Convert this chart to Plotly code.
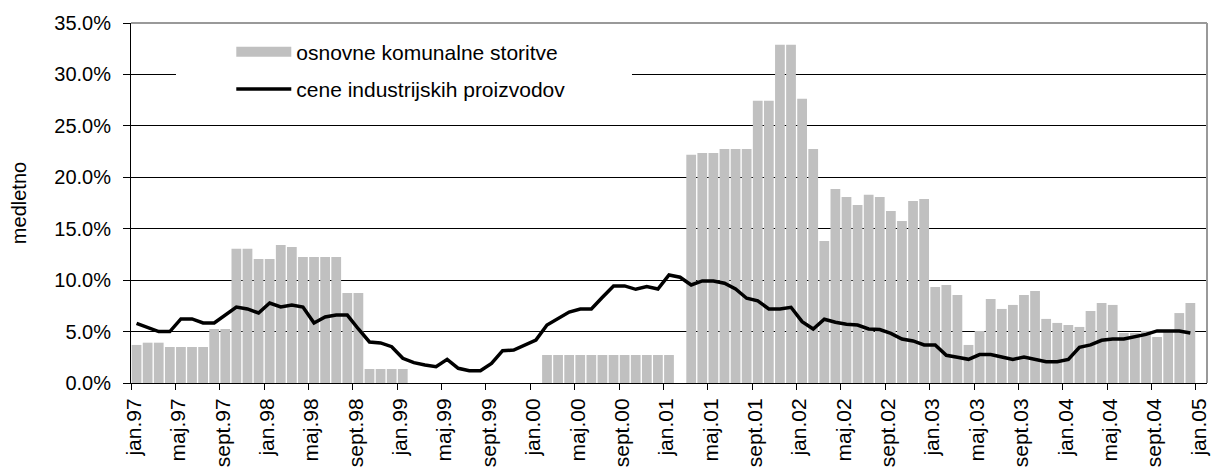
import plotly.graph_objects as go

month_names = ['jan', 'feb', 'mar', 'apr', 'maj', 'jun', 'jul', 'avg', 'sept', 'okt', 'nov', 'dec']
years = ['97', '98', '99', '00', '01', '02', '03', '04']
months = [m + '.' + y for y in years for m in month_names] + ['jan.05']

# osnovne komunalne storitve (bars), % medletno
komunalne = [3.70, 3.92, 3.92, 3.50, 3.50, 3.50, 3.50, 5.25, 5.25, 13.04, 13.04, 12.06,
             12.06, 13.42, 13.23, 12.26, 12.26, 12.26, 12.26, 8.75, 8.75, 1.36, 1.36, 1.36,
             1.36, None, None, None, None, None, None, None, None, None, None, None,
             None, 2.72, 2.72, 2.72, 2.72, 2.72, 2.72, 2.72, 2.72, 2.72, 2.72, 2.72,
             2.72, None, 22.18, 22.37, 22.37, 22.76, 22.76, 22.76, 27.43, 27.43, 32.88, 32.88,
             27.63, 22.76, 13.81, 18.87, 18.09, 17.30, 18.29, 18.09, 16.73, 15.76, 17.70, 17.90,
             9.34, 9.53, 8.56, 3.70, 5.06, 8.17, 7.20, 7.59, 8.56, 8.95, 6.23, 5.84,
             5.64, 5.45, 7.00, 7.78, 7.59, 4.86, 4.86, 5.06, 4.47, 5.06, 6.80, 7.78]

# cene industrijskih proizvodov (line), % medletno
industrijske = [5.80, 5.42, 5.00, 5.00, 6.23, 6.23, 5.84, 5.84, 6.60, 7.39, 7.20, 6.81,
                7.78, 7.39, 7.59, 7.39, 5.84, 6.42, 6.60, 6.60, 5.25, 3.99, 3.90, 3.53,
                2.40, 1.98, 1.75, 1.59, 2.30, 1.43, 1.20, 1.20, 1.91, 3.14, 3.20, 3.70,
                4.18, 5.64, 6.29, 6.90, 7.20, 7.20, 8.34, 9.44, 9.44, 9.11, 9.37, 9.14,
                10.50, 10.28, 9.53, 9.92, 9.92, 9.70, 9.14, 8.24, 7.98, 7.20, 7.20, 7.36,
                5.97, 5.25, 6.20, 5.90, 5.71, 5.64, 5.25, 5.20, 4.83, 4.28, 4.09, 3.70,
                3.70, 2.69, 2.50, 2.30, 2.76, 2.76, 2.53, 2.30, 2.53, 2.30, 2.07, 2.07,
                2.30, 3.47, 3.70, 4.15, 4.28, 4.28, 4.50, 4.73, 5.06, 5.06, 5.06, 4.86]

x = list(range(len(komunalne)))
label_idx = list(range(0, len(months), 4))

fig = go.Figure()
fig.add_trace(go.Bar(x=x, y=komunalne, marker=dict(color='#C0C0C0', line_width=0),
                     name='osnovne komunalne storitve', showlegend=False))
# legend entry drawn as a wide grey block like the original
fig.add_trace(go.Scatter(x=[None], y=[None], mode='lines',
                         line=dict(color='#C0C0C0', width=12),
                         name='osnovne komunalne storitve', legendgroup='a'))
fig.add_trace(go.Scatter(x=x, y=industrijske, mode='lines',
                         line=dict(color='black', width=3.5),
                         name='cene industrijskih proizvodov', legendgroup='b'))

font_dict = dict(family='Liberation Sans, Arial', color='black', size=20)

# page body has an 8px margin, so the figure is 8px smaller than the window
fig.update_layout(width=1212, height=464,
                  margin=dict(l=123, r=13, t=15, b=89),
                  plot_bgcolor='white', paper_bgcolor='white',
                  font=font_dict, bargap=0.12,
                  legend=dict(x=0.0932, y=0.976, xanchor='left', yanchor='top',
                              bgcolor='rgba(0,0,0,0)', itemwidth=55,
                              tracegroupgap=7, font=dict(size=21)))

fig.update_xaxes(range=[-0.5, len(months) - 0.5], automargin=False,
                 tickmode='array',
                 tickvals=[i - 0.5 for i in label_idx],
                 ticktext=[months[i] for i in label_idx],
                 tickangle=-90, ticks='outside', ticklen=6, tickcolor='black',
                 ticklabelshift=3, tickfont=dict(size=21),
                 showline=True, linecolor='black', linewidth=1,
                 showgrid=False, zeroline=False)
fig.update_yaxes(range=[0, 35], dtick=5, tickformat='.1f', ticksuffix='%',
                 automargin=False, tickfont=dict(size=20), ticklabelstandoff=8,
                 ticks='outside', ticklen=7, tickcolor='black',
                 showline=True, linecolor='black', linewidth=1,
                 showgrid=True, gridcolor='black', gridwidth=1, zeroline=False,
                 title=dict(text='medletno', standoff=22, font=dict(size=20)))

# legend area hides the gridline, grey frame on top/right
fig.add_shape(type='rect', xref='paper', yref='paper', x0=0.0418, x1=0.4656,
              y0=0.80, y1=0.975, fillcolor='white', line_width=0, layer='above')
fig.add_shape(type='line', xref='paper', yref='paper', x0=0, x1=1, y0=1, y1=1,
              line=dict(color='#999999', width=2), layer='above')
fig.add_shape(type='line', xref='paper', yref='paper', x0=1, x1=1, y0=0, y1=1,
              line=dict(color='#999999', width=2), layer='above')

fig.write_html('out.html')
